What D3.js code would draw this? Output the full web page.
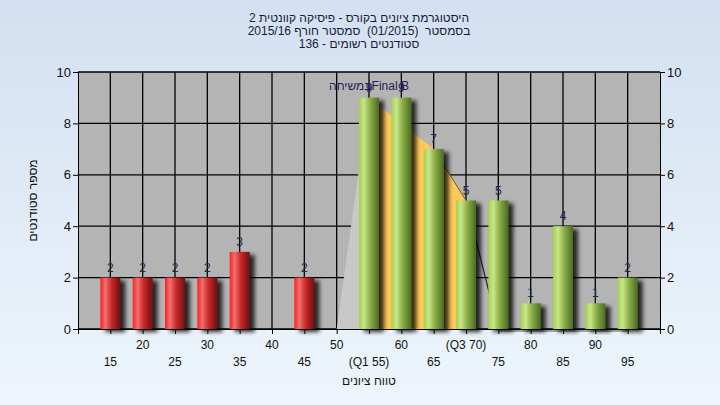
<!DOCTYPE html>
<html><head><meta charset="utf-8">
<script src="https://cdn.jsdelivr.net/npm/d3@7"></script>
<style>body{margin:0;background:#fff;} svg{display:block;} text{white-space:pre;}</style>
</head><body>
<svg id="c" width="720" height="405"></svg>
<script>
const categories = [15,20,25,30,35,40,45,50,55,60,65,70,75,80,85,90,95];
const counts     = [2,2,2,2,3,0,2,0,9,9,7,5,5,1,4,1,2];
const passThreshold = 55;
const quartileLabels = {55:"(Q1 55)", 70:"(Q3 70)"};
const yTicks = [0,2,4,6,8,10];
const curveX = [50,55,60,65,70,75,80,85,90,95];
const curveY = [0,9,8,7,5,0,0,0,0,0];
const q1 = 55, q3 = 70;
const titleLines = ["היסטוגרמת ציונים בקורס - פיסיקה קוונטית 2",
                    "בסמסטר  (01/2015)  סמסטר חורף 2015/16",
                    "סטודנטים רשומים - 136"];
const xTitle = "טווח ציונים";
const yTitle = "מספר סטודנטים";
const annotation = "במשיחהFinal B";

const W = 720, H = 405;
const m = {l:78, r:660, t:72, b:329};
const svg = d3.select("#c");
const font = "'Liberation Sans', Arial, sans-serif";
const defs = svg.append("defs");

const bg = defs.append("linearGradient").attr("id","bg").attr("x1",0).attr("y1",0).attr("x2",0).attr("y2",1);
bg.append("stop").attr("offset","0%").attr("stop-color","#d3e0f1");
bg.append("stop").attr("offset","100%").attr("stop-color","#eef5fc");
svg.append("rect").attr("width",W).attr("height",H).attr("fill","url(#bg)");

function cyl(id, stops){
  const g = defs.append("linearGradient").attr("id",id).attr("x1",0).attr("y1",0).attr("x2",1).attr("y2",0);
  stops.forEach(s=>g.append("stop").attr("offset",s[0]).attr("stop-color",s[1]));
}
cyl("red",[["0%","#ff2020"],["25%","#f07070"],["55%","#cc2a2a"],["100%","#6a1010"]]);
cyl("green",[["0%","#a6d04a"],["25%","#c8e68c"],["55%","#8cb048"],["100%","#4c6a22"]]);

const f = defs.append("filter").attr("id","sh").attr("x","-50%").attr("y","-10%").attr("width","200%").attr("height","130%");
f.append("feGaussianBlur").attr("in","SourceAlpha").attr("stdDeviation",2.2).attr("result","b");
f.append("feOffset").attr("in","b").attr("dx",5).attr("dy",3).attr("result","o");
f.append("feComponentTransfer").attr("in","o").attr("result","o2")
  .append("feFuncA").attr("type","linear").attr("slope",0.8);
const fm = f.append("feMerge");
fm.append("feMergeNode").attr("in","o2");
fm.append("feMergeNode").attr("in","SourceGraphic");

const x = d3.scaleLinear().domain([10,100]).range([m.l,m.r]);
const y = d3.scaleLinear().domain([0,10]).range([m.b,m.t]);

// plot background
svg.append("rect").attr("x",m.l).attr("y",m.t).attr("width",m.r-m.l).attr("height",m.b-m.t).attr("fill","#b4b4b4");

// grid
const grid = svg.append("g").attr("stroke","#000").attr("stroke-width",1.3);
categories.forEach(c=>grid.append("line").attr("x1",x(c)).attr("x2",x(c)).attr("y1",m.t).attr("y2",m.b));
yTicks.forEach(t=>grid.append("line").attr("x1",m.l).attr("x2",m.r).attr("y1",y(t)).attr("y2",y(t)));

// curve areas
const pts = curveX.map((v,i)=>[v,curveY[i]]);
const interp = xv => { for(let i=0;i<pts.length-1;i++){ if(xv>=pts[i][0]&&xv<=pts[i+1][0]){const t=(xv-pts[i][0])/(pts[i+1][0]-pts[i][0]);return pts[i][1]+t*(pts[i+1][1]-pts[i][1]);} } return 0; };
function seg(a,b){ const s=[[a,interp(a)]]; pts.forEach(p=>{if(p[0]>a&&p[0]<b)s.push(p);}); s.push([b,interp(b)]); return s; }
const area = d3.area().x(d=>x(d[0])).y0(y(0)).y1(d=>y(d[1]));
const line = d3.line().x(d=>x(d[0])).y(d=>y(d[1]));
svg.append("path").attr("d",area(seg(curveX[0],q1))).attr("fill","#c8c8c8");
svg.append("path").attr("d",area(seg(q1,q3))).attr("fill","#ffc858");
svg.append("path").attr("d",line(seg(65,q3))).attr("fill","none").attr("stroke","#6a5a3a").attr("stroke-width",1);
svg.append("path").attr("d",line(seg(q3,75))).attr("fill","none").attr("stroke","#222").attr("stroke-width",1.2);
svg.append("path").attr("d",line(seg(75,curveX[curveX.length-1]))).attr("transform","translate(0,2)").attr("fill","none").attr("stroke","#555").attr("stroke-width",1);

// bars
const bw = 20;
svg.append("g").selectAll("rect").data(categories.map((c,i)=>({c,v:counts[i]})).filter(d=>d.v>0))
  .join("rect").attr("x",d=>x(d.c)-bw/2).attr("width",bw).attr("y",d=>y(d.v)).attr("height",d=>y(0)-y(d.v))
  .attr("fill",d=>d.c<passThreshold?"url(#red)":"url(#green)").attr("filter","url(#sh)");

// axes
const yl = d3.axisLeft(y).tickValues(yTicks).tickSize(5).tickPadding(2);
const yr = d3.axisRight(y).tickValues(yTicks).tickSize(5).tickPadding(2);
[svg.append("g").attr("transform",`translate(${m.l},0)`).call(yl),
 svg.append("g").attr("transform",`translate(${m.r},0)`).call(yr)].forEach(g=>{
  g.select(".domain").attr("stroke","#000");
  g.selectAll("line").attr("stroke","#000");
  g.selectAll("text").attr("font-family",font).attr("font-size",13).attr("fill","#111");
});
const xa = d3.axisBottom(x).tickValues([10].concat(categories)).tickSize(5).tickFormat(()=> "");
const gx = svg.append("g").attr("transform",`translate(0,${m.b})`).call(xa);
gx.select(".domain").attr("stroke","#000");
gx.selectAll("line").attr("stroke","#000");
categories.forEach((c,i)=>{
  svg.append("text").attr("x",x(c)).attr("y", i%2===1 ? 349 : 366).attr("text-anchor","middle")
    .attr("font-family",font).attr("font-size",12).attr("fill","#111")
    .text(quartileLabels[c] || String(c));
});

// value labels
svg.append("g").selectAll("text").data(categories.map((c,i)=>({c,v:counts[i]})).filter(d=>d.v>0))
  .join("text").attr("x",d=>x(d.c)).attr("y",d=>y(d.v)-6).attr("text-anchor","middle")
  .attr("font-family",font).attr("font-size",12).attr("fill","#1e2a4a").text(d=>d.v);

// annotation
svg.append("text").attr("x",(m.l+m.r)/2).attr("y",90).attr("text-anchor","middle")
  .attr("font-family",font).attr("font-size",12).attr("fill","#2a1a5a").text(annotation);

// titles
titleLines.forEach((t,i)=>svg.append("text").attr("x",359).attr("y",22+i*13).attr("text-anchor","middle")
  .attr("font-family",font).attr("font-size",12).attr("fill","#1a1a3a").text(t));
svg.append("text").attr("x",(m.l+m.r)/2).attr("y",385).attr("text-anchor","middle")
  .attr("font-family",font).attr("font-size",12).attr("fill","#111").text(xTitle);
svg.append("text").attr("transform",`translate(37,${(m.t+m.b)/2}) rotate(-90)`).attr("text-anchor","middle").attr("direction","rtl")
  .attr("font-family",font).attr("font-size",12).attr("fill","#111").text(yTitle);
</script>
</body></html>
